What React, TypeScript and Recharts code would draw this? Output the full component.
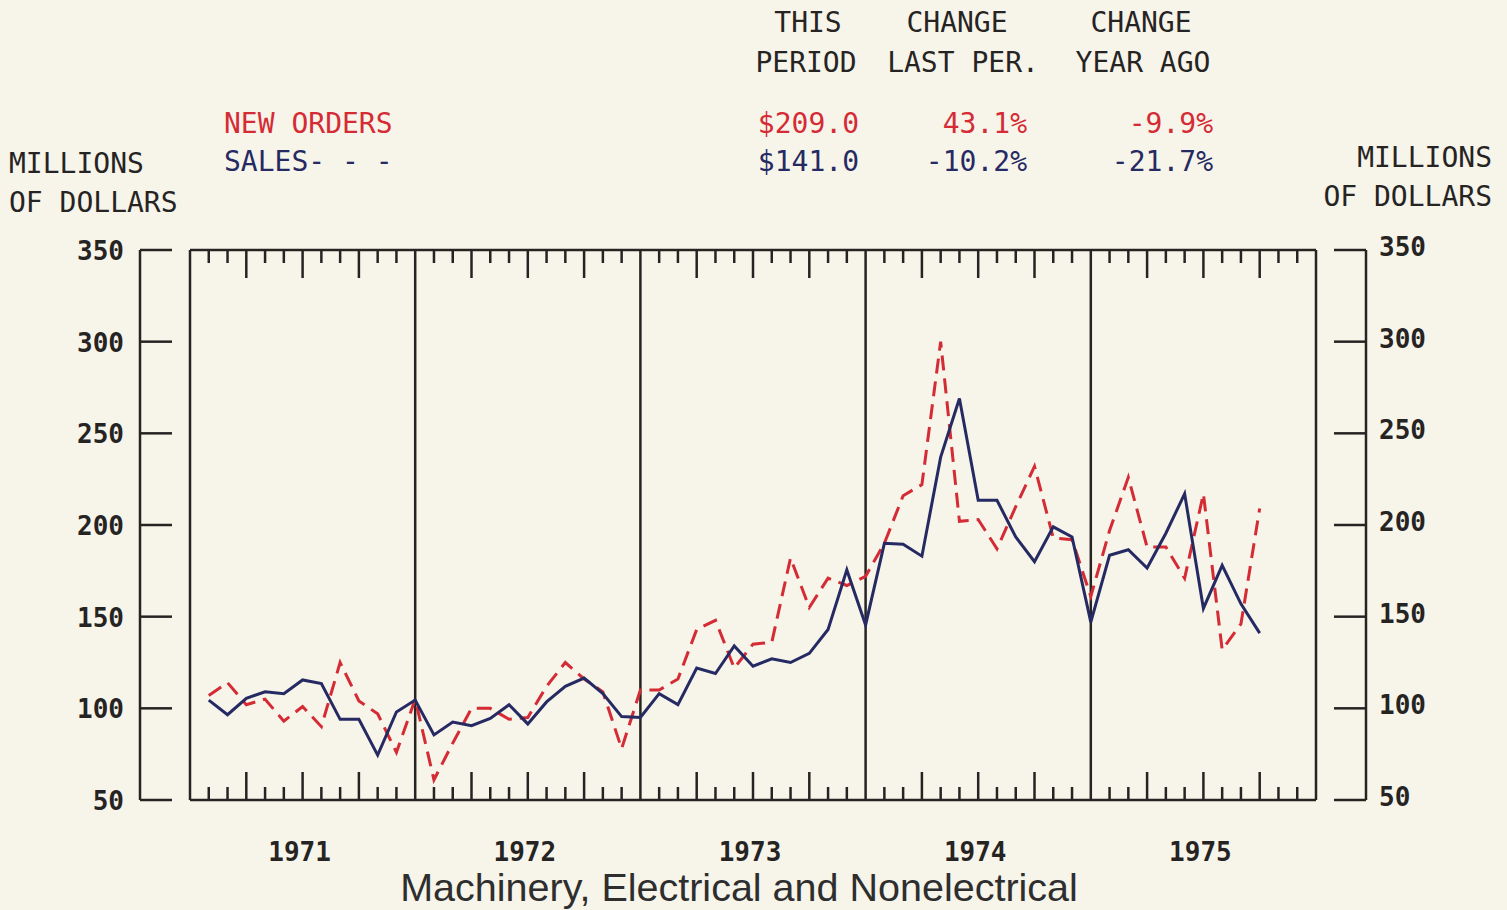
import { LineChart, Line, XAxis, YAxis, ReferenceLine } from 'recharts';

// monthly values, Jan 1971 .. Sep 1975
const YEARS = ['1971', '1972', '1973', '1974', '1975'];

const NEW_ORDERS = [
  107, 114, 102, 105, 93, 101, 90, 125, 104, 97, 76, 105,
  61, 81, 100, 100, 94, 95, 112, 125, 116, 109, 78, 110,
  110, 116, 143, 148, 122, 135, 136, 182, 155, 171, 167, 172,
  190, 216, 222, 300, 202, 203, 187, 210, 232, 193, 192, 161,
  197, 226, 188, 188, 171, 217, 132, 146, 209
];

const SALES = [
  104.5, 96.5, 105.5, 109, 108, 115.5, 113.5, 94, 94, 74.5, 98, 104.5,
  85.5, 92.5, 90.5, 94.5, 102, 91.5, 103.5, 112, 116.5, 108, 95.5, 95,
  108, 102, 122, 119, 134, 123, 127, 125, 130, 143, 175.5, 145.5,
  190, 189.5, 183, 237, 269, 213.5, 213.5, 193.5, 180, 199, 193.5, 147,
  183.5, 186.5, 176.5, 195.5, 217, 154.5, 178, 157, 141
];

const Y_TICKS = [50, 100, 150, 200, 250, 300, 350];

const data = SALES.map((s, i) => ({ m: i + 1, sales: s, orders: NEW_ORDERS[i] }));

const MONTH_TICKS = Array.from({ length: 59 }, (_, i) => i + 1).filter(m => m % 12 !== 0);

// box is 1126px wide for 60 months, plot area is 50px wider on each side
const PAD = 50 / (1126 / 60);
const X_DOMAIN = [-PAD, 60 + PAD];

const INK = '#262423';
const RED = '#d42b35';
const NAVY = '#262a63';
const BG = '#f7f4ea';
const MONO = '"DejaVu Sans Mono", monospace';

const LeftTick = ({ x, y, payload }: any) => (
  <g>
    <line x1={x} x2={x + 32} y1={y} y2={y} stroke={INK} strokeWidth={2.5} />
    <text x={x - 16} y={y + 1} textAnchor="end" dominantBaseline="central"
      fontFamily={MONO} fontSize={26} fontWeight="bold" fill={INK}>{payload.value}</text>
  </g>
);

const RightTick = ({ x, y, payload }: any) => (
  <g>
    <line x1={x - 32} x2={x} y1={y} y2={y} stroke={INK} strokeWidth={2.5} />
    <text x={x + 13} y={y - 3} textAnchor="start" dominantBaseline="central"
      fontFamily={MONO} fontSize={26} fontWeight="bold" fill={INK}>{payload.value}</text>
  </g>
);

const TopTick = ({ x, y, payload }: any) => {
  const len = payload.value % 3 === 0 ? 28 : 13;
  return <line x1={x} x2={x} y1={y} y2={y + len} stroke={INK} strokeWidth={2.5} />;
};

const BottomTick = ({ x, y, payload }: any) => {
  const v = payload.value;
  const len = v % 3 === 0 ? 28 : 13;
  const year = v % 12 === 6 ? YEARS[Math.floor(v / 12)] : null;
  return (
    <g>
      <line x1={x} x2={x} y1={y} y2={y - len} stroke={INK} strokeWidth={2.5} />
      {year && (
        <text x={x - 3} y={y + 52} textAnchor="middle" dominantBaseline="central"
          fontFamily={MONO} fontSize={26} fontWeight="bold" fill={INK}>{year}</text>
      )}
    </g>
  );
};

const Label = ({ x, y, text, anchor = 'left', color = INK, size = 28, family = MONO }: any) => {
  const tx = anchor === 'right' ? '-100%' : anchor === 'center' ? '-50%' : '0';
  return (
    <div style={{
      position: 'absolute', left: x, top: y, transform: `translate(${tx}, -50%)`,
      fontFamily: family, fontSize: size, color, lineHeight: 1, whiteSpace: 'pre'
    }}>{text}</div>
  );
};

export default function App() {
  return (
    <div style={{ position: 'absolute', left: 0, top: 0, width: 1507, height: 910, background: BG, overflow: 'hidden' }}>
      {/* header table */}
      <Label x={808} y={23} text="THIS" anchor="center" />
      <Label x={806} y={63} text="PERIOD" anchor="center" />
      <Label x={957} y={23} text="CHANGE" anchor="center" />
      <Label x={963} y={63} text="LAST PER." anchor="center" />
      <Label x={1141} y={23} text="CHANGE" anchor="center" />
      <Label x={1143} y={63} text="YEAR AGO" anchor="center" />

      <Label x={224} y={124} text="NEW ORDERS" color={RED} />
      <Label x={224} y={162} text="SALES- - -" color={NAVY} />
      <Label x={859} y={124} text="$209.0" anchor="right" color={RED} />
      <Label x={1027} y={124} text="43.1%" anchor="right" color={RED} />
      <Label x={1213} y={124} text="-9.9%" anchor="right" color={RED} />
      <Label x={859} y={162} text="$141.0" anchor="right" color={NAVY} />
      <Label x={1027} y={162} text="-10.2%" anchor="right" color={NAVY} />
      <Label x={1213} y={162} text="-21.7%" anchor="right" color={NAVY} />

      <Label x={9} y={164} text="MILLIONS" />
      <Label x={9} y={203} text="OF DOLLARS" />
      <Label x={1492} y={158} text="MILLIONS" anchor="right" />
      <Label x={1492} y={197} text="OF DOLLARS" anchor="right" />

      <Label x={739} y={888} text="Machinery, Electrical and Nonelectrical" anchor="center"
        size={39.5} family='"Liberation Sans", Arial, sans-serif' color="#2e2e2e" />

      <div style={{ position: 'absolute', left: 0, top: 0 }}>
        <LineChart width={1507} height={910} data={data} margin={{ top: 0, right: 0, bottom: 0, left: 0 }}>
          <XAxis xAxisId="top" orientation="top" type="number" dataKey="m" domain={X_DOMAIN}
            ticks={MONTH_TICKS} interval={0} height={250} axisLine={false} tickLine={false}
            tickSize={0} tickMargin={0} tick={<TopTick />} allowDataOverflow />
          <XAxis xAxisId="bottom" orientation="bottom" type="number" dataKey="m" domain={X_DOMAIN}
            ticks={MONTH_TICKS} interval={0} height={110} axisLine={false} tickLine={false}
            tickSize={0} tickMargin={0} tick={<BottomTick />} allowDataOverflow />
          <YAxis yAxisId="left" orientation="left" width={140} domain={[50, 350]} ticks={Y_TICKS}
            interval={0} axisLine={{ stroke: INK, strokeWidth: 2.5 }} tickLine={false}
            tickSize={0} tickMargin={0} tick={<LeftTick />} allowDataOverflow />
          <YAxis yAxisId="right" orientation="right" width={141} domain={[50, 350]} ticks={Y_TICKS}
            interval={0} axisLine={{ stroke: INK, strokeWidth: 2.5 }} tickLine={false}
            tickSize={0} tickMargin={0} tick={<RightTick />} allowDataOverflow />

          {/* chart box and year dividers */}
          {[0, 12, 24, 36, 48, 60].map(v => (
            <ReferenceLine key={v} xAxisId="bottom" yAxisId="left" x={v} stroke={INK} strokeWidth={2.5} />
          ))}
          <ReferenceLine xAxisId="bottom" yAxisId="left" stroke={INK} strokeWidth={2.5}
            segment={[{ x: 0, y: 350 }, { x: 60, y: 350 }]} />
          <ReferenceLine xAxisId="bottom" yAxisId="left" stroke={INK} strokeWidth={2.5}
            segment={[{ x: 0, y: 50 }, { x: 60, y: 50 }]} />

          <Line xAxisId="bottom" yAxisId="left" type="linear" dataKey="orders" stroke={RED}
            strokeWidth={3} strokeDasharray="15 8" dot={false} isAnimationActive={false} />
          <Line xAxisId="bottom" yAxisId="left" type="linear" dataKey="sales" stroke={NAVY}
            strokeWidth={3} dot={false} isAnimationActive={false} />
          {/* same series on the right scale keeps that axis populated; drawn transparent */}
          <Line xAxisId="top" yAxisId="right" type="linear" dataKey="sales" stroke="none"
            dot={false} activeDot={false} legendType="none" isAnimationActive={false} />
        </LineChart>
      </div>
    </div>
  );
}
